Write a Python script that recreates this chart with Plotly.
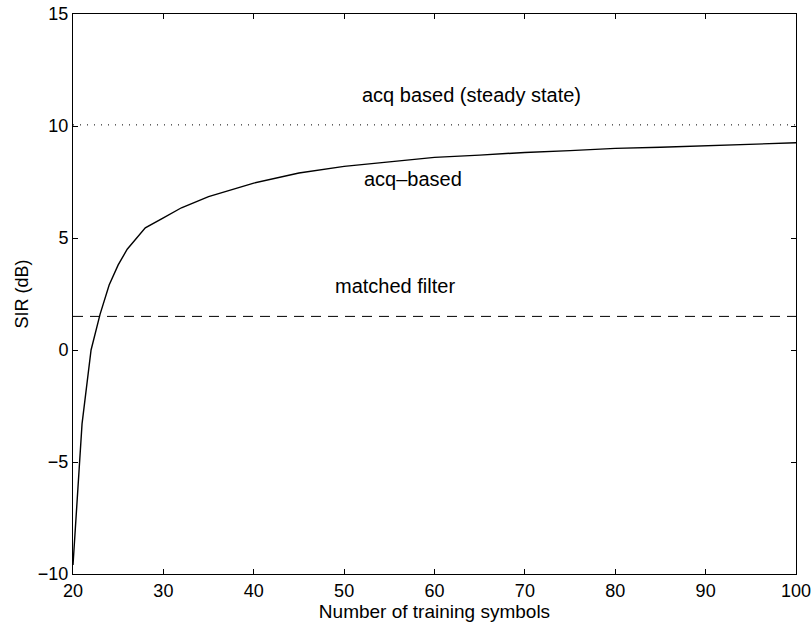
import plotly.graph_objects as go

# SIR of the acquisition-based receiver versus training length
n_train = [20, 21, 22, 23, 24, 25, 26, 27, 28, 30, 32, 35, 40, 45, 50,
           55, 60, 65, 70, 75, 80, 85, 90, 95, 100]
sir_acq = [-9.6, -3.3, 0.0, 1.6, 2.9, 3.8, 4.5, 5.0, 5.45, 5.9, 6.35, 6.85,
           7.45, 7.9, 8.2, 8.4, 8.6, 8.7, 8.82, 8.9, 9.0, 9.05, 9.12, 9.18, 9.25]

# Reference levels
x_span = [20, 100]
sir_steady = 10.05
sir_matched = 1.5

x_ticks = [20, 30, 40, 50, 60, 70, 80, 90, 100]
y_ticks = [-10, -5, 0, 5, 10, 15]

FONT = "Liberation Sans, Arial, Helvetica, sans-serif"

fig = go.Figure()
fig.add_trace(go.Scatter(x=n_train, y=sir_acq, mode="lines",
                         line=dict(color="black", width=1.4),
                         showlegend=False, hoverinfo="skip"))
fig.add_trace(go.Scatter(x=x_span, y=[sir_steady, sir_steady], mode="lines",
                         line=dict(color="black", width=1, dash="1px,6px"),
                         showlegend=False, hoverinfo="skip"))
fig.add_trace(go.Scatter(x=x_span, y=[sir_matched, sir_matched], mode="lines",
                         line=dict(color="black", width=1, dash="10px,7px"),
                         showlegend=False, hoverinfo="skip"))

labels = [
    (64.1, 11.4, "acq based (steady state)"),
    (57.6, 7.62, "acq\u2013based"),
    (55.6, 2.85, "matched filter"),
]
for lx, ly, txt in labels:
    fig.add_annotation(x=lx, y=ly, text=txt, showarrow=False,
                       font=dict(family=FONT, size=20, color="black"),
                       xanchor="center", yanchor="middle")

axis_common = dict(
    showgrid=False, zeroline=False, showline=True, linecolor="black",
    linewidth=1, mirror="ticks", ticks="inside", ticklen=5,
    tickcolor="black", tickwidth=1, automargin=False,
    ticklabeloverflow="allow",
    tickfont=dict(family=FONT, size=18, color="black"),
)

fig.update_layout(
    width=811, height=622,
    margin=dict(l=73, r=15, t=14, b=48),
    paper_bgcolor="white", plot_bgcolor="white",
    xaxis=dict(range=[20, 100], tickvals=x_ticks,
               title=dict(text="Number of training symbols", standoff=0,
                          font=dict(family=FONT, size=19, color="black")),
               **axis_common),
    yaxis=dict(range=[-10, 15], tickvals=y_ticks,
               title=dict(text="SIR (dB)", standoff=4,
                          font=dict(family=FONT, size=18, color="black")),
               **axis_common),
)

fig.write_html("out.html")
